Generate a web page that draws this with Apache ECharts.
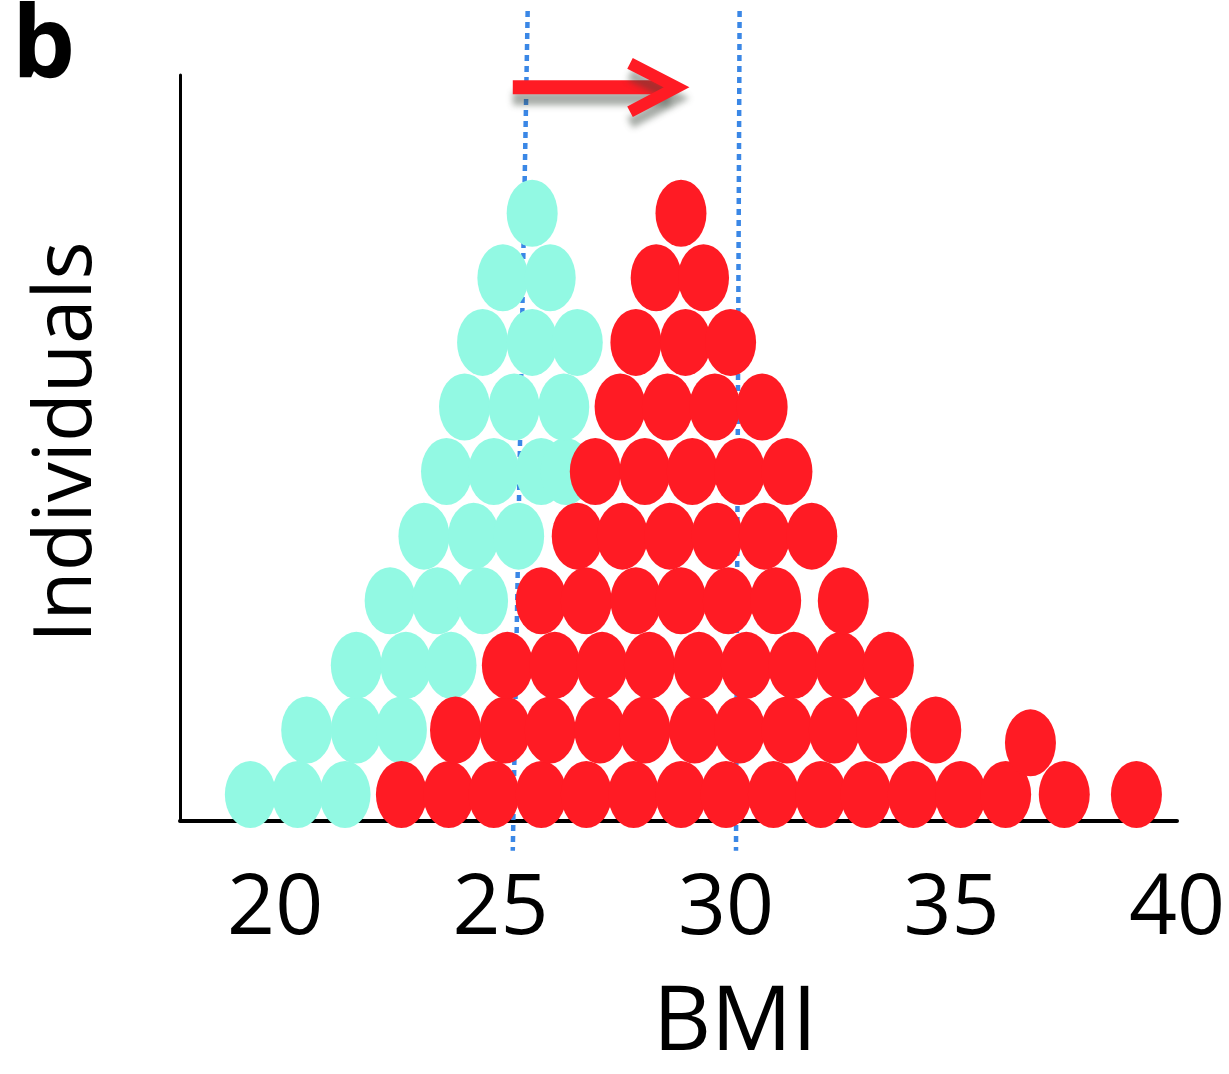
<!DOCTYPE html>
<html>
<head>
<meta charset="utf-8">
<title>BMI dot plot</title>
<script src="https://cdn.jsdelivr.net/npm/echarts@6/dist/echarts.min.js"></script>
<style>
html, body { margin: 0; padding: 0; background: #fff; }
#main { width: 1229px; height: 1074px; }
</style>
</head>
<body>
<div id="main"></div>
<script>
'use strict';
// stack level of each row of dots, 1 = bottom row
var levels = [1, 2, 3, 4, 5, 6, 7, 8, 9, 10];

// BMI of every dot, one list per level
var cyanRows = [
	[19.45, 20.5, 21.55],
	[20.7, 21.8, 22.8],
	[21.8, 22.9, 23.9],
	[22.55, 23.6, 24.6],
	[23.3, 24.4, 25.4],
	[23.8, 24.85, 25.9, 26.45],
	[24.2, 25.3, 26.4],
	[24.6, 25.7, 26.7],
	[25.05, 26.1],
	[25.7]
];
var redRows = [
	[22.8, 23.85, 24.85, 25.9, 26.9, 27.95, 29.0, 30.0, 31.05, 32.1, 33.1, 34.15, 35.2, 36.2, 37.5, 39.1],
	[24.0, 25.1, 26.1, 27.2, 28.2, 29.3, 30.3, 31.35, 32.4, 33.45, 34.65],
	[25.15, 26.2, 27.25, 28.3, 29.4, 30.45, 31.5, 32.55, 33.6],
	[25.9, 26.9, 28.0, 29.0, 30.05, 31.1, 32.6],
	[26.7, 27.7, 28.75, 29.8, 30.85, 31.9],
	[27.1, 28.2, 29.25, 30.3, 31.35],
	[27.65, 28.7, 29.75, 30.8],
	[28.0, 29.1, 30.1],
	[28.45, 29.5],
	[29.0]
];
// one red dot that sits a little low
var redExtra = [[36.75, 1.8]];

// mean BMI lines (top end, bottom end)
var meanBefore = [25.6, 25.27];
var meanAfter = [30.3, 30.22];
var lineEnds = [13.13, 0.13];

// arrow showing the shift of the mean
var arrowShaft = [[25.27, 11.95], [28.75, 11.95]];
var arrowHead = [[27.87, 12.32], [28.9, 11.95], [27.87, 11.57]];

var bmiTicks = [20, 25, 30, 35, 40];

function toPoints(rows) {
	var pts = [];
	rows.forEach(function(row, i){
		row.forEach(function(b){ pts.push([b, levels[i]]); });
	});
	return pts;
}

function meanLine(m) {
	return [[m[0], lineEnds[0]], [m[1], lineEnds[1]]];
}

var font = 'Open Sans';
var cyan = '#92f9e3';
var red = '#ff1b24';
var blue = '#3a87e6';
var dot = [51, 67];

var chart = echarts.init(document.getElementById('main'));
chart.setOption({
	animation: false,
	backgroundColor: '#fff',
	title: {
		text: 'b',
		left: 12,
		top: 0,
		padding: 0,
		textStyle: { fontFamily: font, fontSize: 100, fontWeight: 'bold', color: '#000' }
	},
	grid: { left: 180, right: 52, top: 75, bottom: 244 },
	xAxis: {
		type: 'value',
		min: 17.89,
		max: 40,
		name: 'BMI',
		nameLocation: 'middle',
		nameGap: 158,
		nameTextStyle: { fontFamily: font, fontSize: 90, color: '#000', padding: [0, 0, 0, 113] },
		axisLine: { show: true, onZero: false, lineStyle: { color: '#000', width: 4 } },
		axisTick: { show: false },
		splitLine: { show: false },
		axisLabel: {
			customValues: bmiTicks,
			fontFamily: font,
			fontSize: 84,
			color: '#000',
			margin: 47
		}
	},
	yAxis: {
		type: 'value',
		min: 0.59,
		max: 12.14,
		name: 'Individuals',
		nameLocation: 'middle',
		nameRotate: 90,
		nameGap: 72,
		nameTextStyle: { fontFamily: font, fontSize: 80, color: '#000', padding: [0, 0, 0, 12] },
		axisLine: { show: true, onZero: false, lineStyle: { color: '#000', width: 3 } },
		axisTick: { show: false },
		axisLabel: { show: false },
		splitLine: { show: false }
	},
	series: [
		{
			type: 'line',
			data: meanLine(meanBefore),
			symbol: 'none',
			clip: false,
			silent: true,
			z: 1,
			lineStyle: { color: blue, width: 4.5, type: [6, 5] }
		},
		{
			type: 'line',
			data: meanLine(meanAfter),
			symbol: 'none',
			clip: false,
			silent: true,
			z: 1,
			lineStyle: { color: blue, width: 4.5, type: [6, 5] }
		},
		{
			type: 'scatter',
			data: toPoints(cyanRows),
			symbol: 'circle',
			symbolSize: dot,
			z: 2,
			itemStyle: { color: cyan, opacity: 1 }
		},
		{
			type: 'scatter',
			data: toPoints(redRows).concat(redExtra),
			symbol: 'circle',
			symbolSize: dot,
			z: 3,
			itemStyle: { color: red, opacity: 1 }
		},
		{
			type: 'line',
			data: arrowShaft,
			symbol: 'none',
			clip: false,
			silent: true,
			z: 5,
			lineStyle: {
				color: red, width: 14, cap: 'butt',
				shadowColor: 'rgba(60,70,60,0.45)', shadowBlur: 6, shadowOffsetY: 11
			}
		},
		{
			type: 'line',
			data: arrowHead,
			symbol: 'none',
			clip: false,
			silent: true,
			z: 5,
			lineStyle: {
				color: red, width: 12, join: 'miter', cap: 'butt',
				shadowColor: 'rgba(60,70,60,0.45)', shadowBlur: 6, shadowOffsetY: 11
			}
		}
	]
});
</script>
</body>
</html>
